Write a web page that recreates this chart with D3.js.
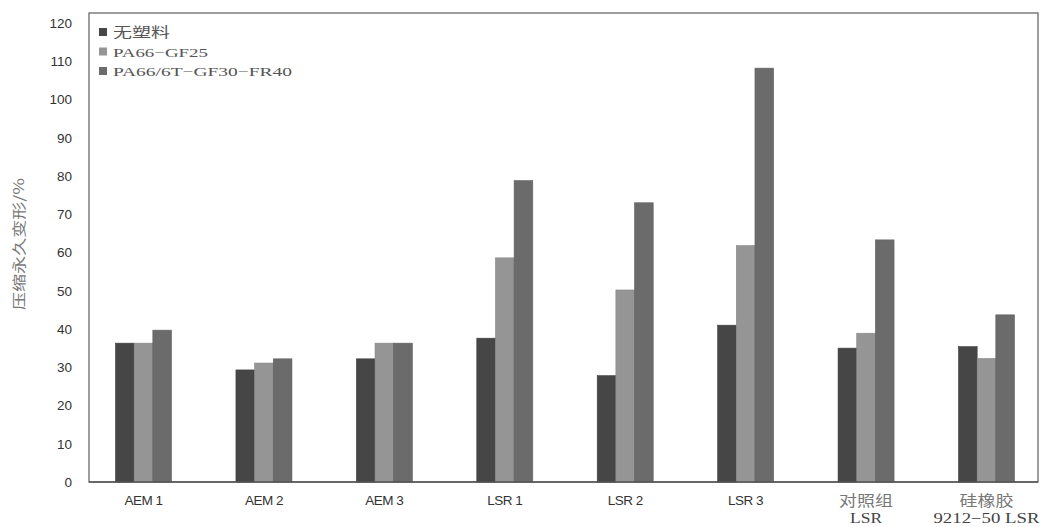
<!DOCTYPE html>
<html><head><meta charset="utf-8">
<script src="https://cdn.jsdelivr.net/npm/d3@7"></script>
<style>body{margin:0;background:#fff;}svg{display:block;}</style>
</head><body>
<svg id="c" width="1040" height="527"></svg>
<script>
const categories = [["AEM 1"],["AEM 2"],["AEM 3"],["LSR 1"],["LSR 2"],["LSR 3"],["对照组","LSR"],["硅橡胶","9212−50 LSR"]];
const seriesNames = ["无塑料","PA66−GF25","PA66/6T−GF30−FR40"];
const noPlastic = [36.3, 29.3, 32.2, 37.6, 27.8, 41.0, 35.0, 35.4];
const pa66gf25 = [36.3, 31.1, 36.3, 58.6, 50.2, 61.8, 38.9, 32.3];
const pa666t = [39.7, 32.2, 36.3, 78.8, 73.0, 108.2, 63.3, 43.7];
const yTicks = [0,10,20,30,40,50,60,70,80,90,100,110,120];
const yLabel = "压缩永久变形/%";
const colors = ["#464646","#959595","#6b6b6b"];

const svg = d3.select("#c");
const series = [noPlastic, pa66gf25, pa666t];
const keys = categories.map((c,i)=>i);
const x = d3.scaleBand().domain(keys).range([83,1047]).paddingInner(0.535).paddingOuter(0.27);
const x1 = d3.scaleBand().domain([0,1,2]).range([0,x.bandwidth()]);
const y = d3.scaleLinear().domain([0,120]).range([482,23]);

// frame
svg.append("rect").attr("x",89).attr("y",13).attr("width",949).attr("height",469)
  .attr("fill","none").attr("stroke","#6a6a6a").attr("stroke-width",1.3);

// bars
const g = svg.append("g");
keys.forEach(i=>{
  series.forEach((s,j)=>{
    g.append("rect").attr("x",x(i)+x1(j)).attr("y",y(s[i]))
      .attr("width",x1.bandwidth()).attr("height",y(0)-y(s[i]))
      .attr("fill",colors[j]).attr("stroke",d3.color(colors[j]).darker(0.3)).attr("stroke-width",0.6);
  });
});

// bottom axis line
svg.append("line").attr("x1",89).attr("x2",1038).attr("y1",482).attr("y2",482)
  .attr("stroke","#555").attr("stroke-width",1.6);

// y axis
const yAxis = d3.axisLeft(y).tickValues(yTicks).tickSize(0).tickPadding(0);
const ya = svg.append("g").attr("transform","translate(72,0)").call(yAxis);
ya.select(".domain").remove();
ya.selectAll("text").attr("font-family","Liberation Sans, Arial, sans-serif").attr("font-size",13.5).attr("fill","#333");

// y label
svg.append("text").attr("transform","translate(24,244) rotate(-90)").attr("text-anchor","middle")
  .attr("font-family","Noto Sans CJK SC, sans-serif").attr("font-size",14).attr("fill","#777")
  .attr("textLength",132).attr("lengthAdjust","spacingAndGlyphs").text(yLabel);

// x labels
const xa = d3.axisBottom(x).tickSize(0).tickFormat(()=>"");
svg.append("g").attr("transform","translate(0,482)").call(xa).select(".domain").remove();
const cjkLen = [54, 54], secLen = [32, 106];
keys.forEach(i=>{
  const lines = categories[i];
  const cx = x(i)+x.bandwidth()/2;
  if(lines.length===1){
    svg.append("text").attr("x",cx).attr("y",505).attr("text-anchor","middle")
      .attr("font-family","Liberation Sans, Arial, sans-serif").attr("font-size",13.5).attr("fill","#333")
      .attr("letter-spacing","-0.5").text(lines[0]);
  } else {
    const k = i-6;
    svg.append("text").attr("x",cx-cjkLen[k]/2).attr("y",506)
      .attr("font-family","Noto Sans CJK SC, sans-serif").attr("font-size",15).attr("fill","#777")
      .attr("textLength",cjkLen[k]).attr("lengthAdjust","spacingAndGlyphs").text(lines[0]);
    svg.append("text").attr("x",cx-secLen[k]/2).attr("y",523)
      .attr("font-family","Liberation Serif, serif").attr("font-size",14).attr("fill","#444")
      .attr("textLength",secLen[k]).attr("lengthAdjust","spacingAndGlyphs").text(lines[1]);
  }
});

// legend
const legLen = [57, 95, 179];
seriesNames.forEach((n,j)=>{
  const yy = 32 + j*19.5;
  svg.append("rect").attr("x",99).attr("y",yy-4).attr("width",8).attr("height",8).attr("fill",colors[j]);
  svg.append("text").attr("x",113).attr("y",yy+5)
    .attr("font-family", j===0 ? "Noto Sans CJK SC, serif" : "Liberation Serif, serif")
    .attr("font-size",13.5).attr("fill","#555")
    .attr("textLength",legLen[j]).attr("lengthAdjust","spacingAndGlyphs").text(n);
});
</script>
</body></html>
